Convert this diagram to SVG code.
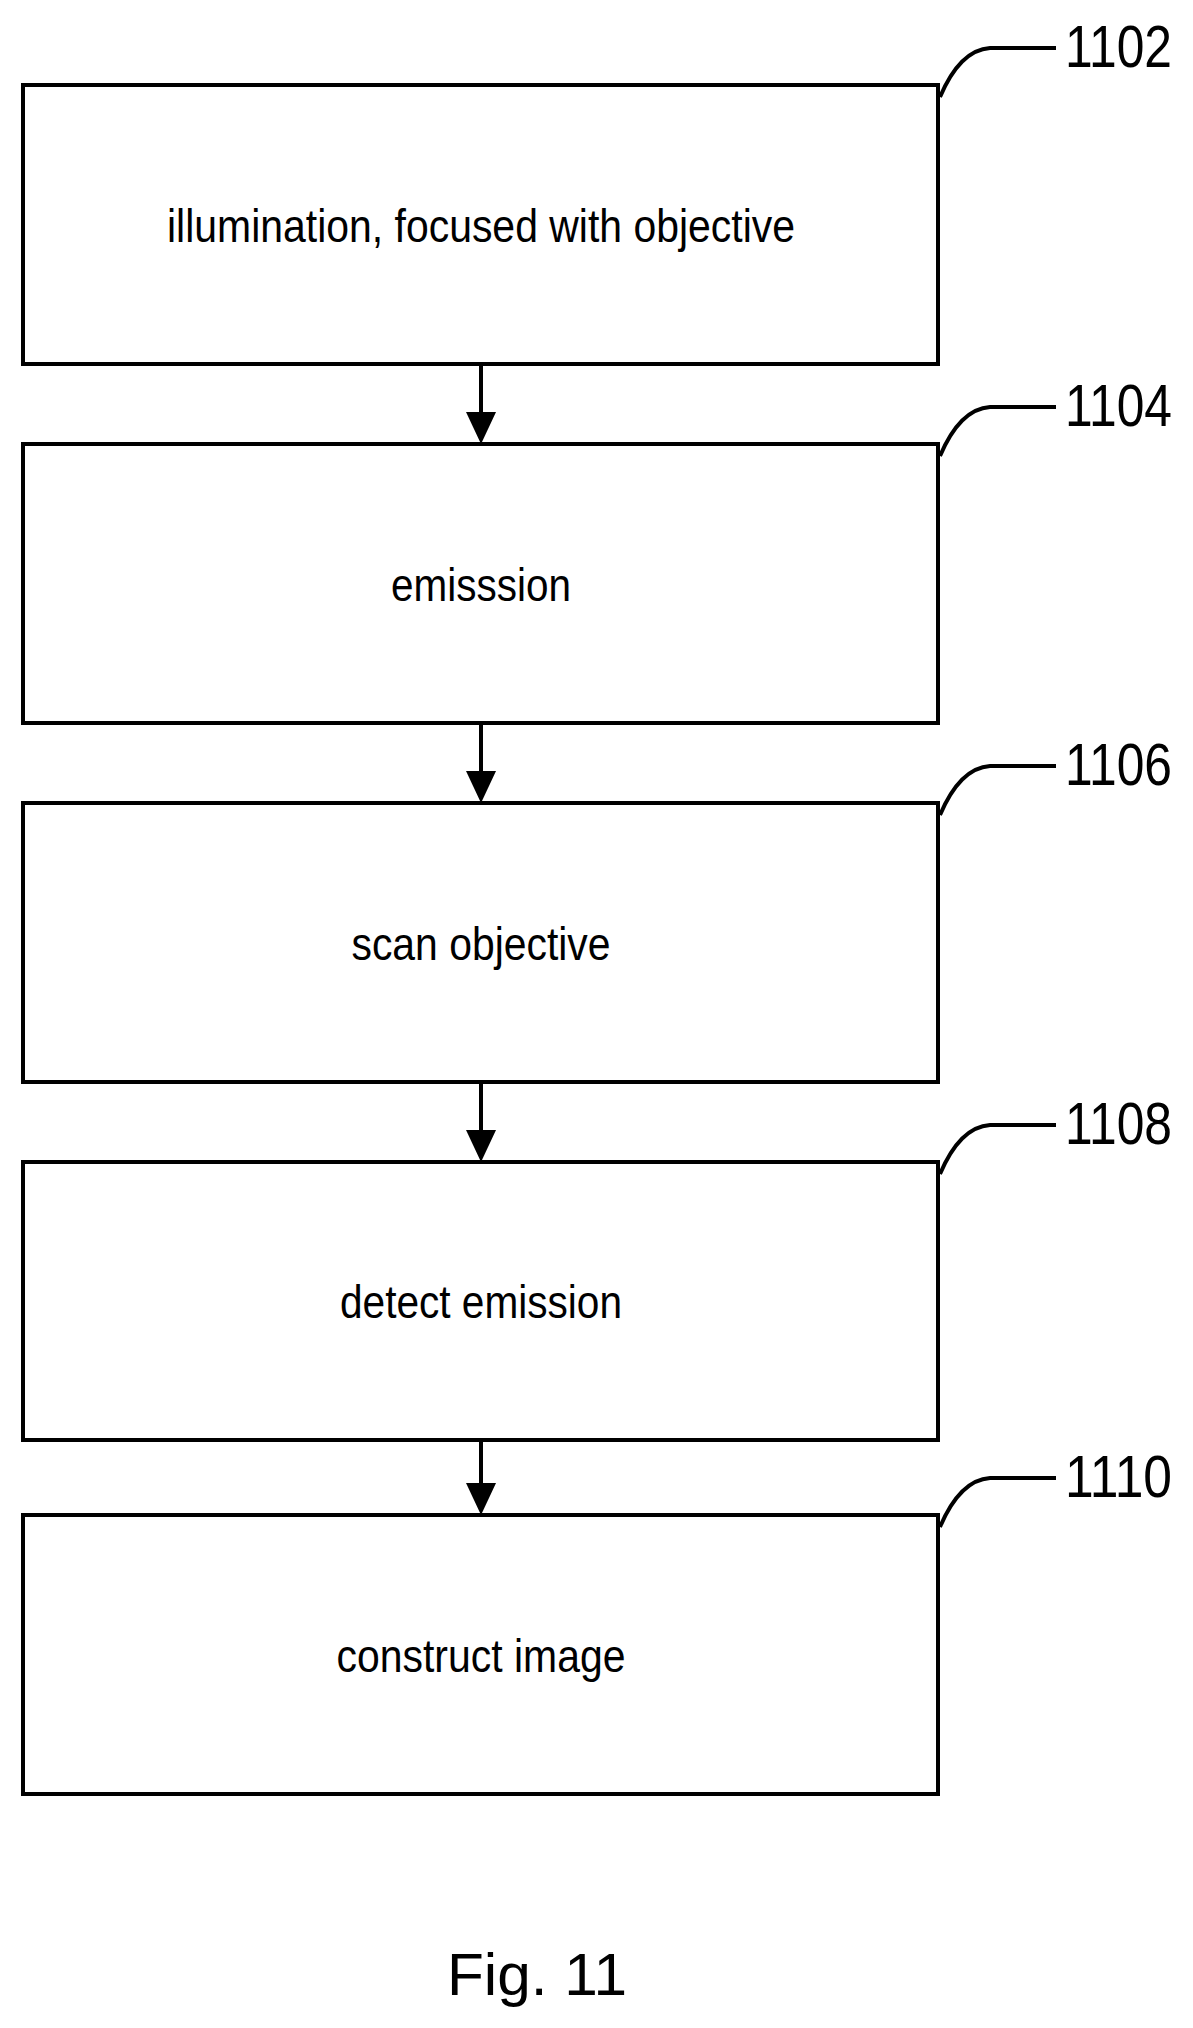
<svg xmlns="http://www.w3.org/2000/svg" width="1193" height="2028" viewBox="0 0 1193 2028">
<style>
.b{fill:#fff;stroke:#000;stroke-width:4}
.t{font-family:"Liberation Sans",Arial,sans-serif;font-size:46px;text-anchor:middle;fill:#000}
.n{font-family:"Liberation Sans",Arial,sans-serif;font-size:60px;fill:#000}
.l{fill:none;stroke:#000;stroke-width:4}
</style>
<defs><marker id="a" markerWidth="8" markerHeight="8" refX="8" refY="4" orient="auto" markerUnits="userSpaceOnUse" viewBox="0 0 8 8"><path d="M0,0L8,4L0,8z"/></marker></defs>
<rect width="1193" height="2028" fill="#fff"/>
<g id="connectors">
<g fill="#000" stroke="#000" stroke-width="4">
<line x1="481" y1="364" x2="481" y2="414"/><path d="M466,412L496,412L481,444z" stroke="none"/>
<line x1="481" y1="723" x2="481" y2="773"/><path d="M466,771L496,771L481,803z" stroke="none"/>
<line x1="481" y1="1082" x2="481" y2="1132"/><path d="M466,1130L496,1130L481,1162z" stroke="none"/>
<line x1="481" y1="1440" x2="481" y2="1485"/><path d="M466,1483L496,1483L481,1515z" stroke="none"/>
</g>
</g>
<g id="n1102"><rect class="b" x="23" y="85" width="915" height="279"/><text class="t" x="481" y="242" textLength="628" lengthAdjust="spacingAndGlyphs">illumination, focused with objective</text><path class="l" d="M940,97Q960,50 990,48L1056,48"/><text class="n" x="1065" y="67" textLength="107" lengthAdjust="spacingAndGlyphs">1102</text></g>
<g id="n1104"><rect class="b" x="23" y="444" width="915" height="279"/><text class="t" x="481" y="601" textLength="180" lengthAdjust="spacingAndGlyphs">emisssion</text><path class="l" d="M940,456Q960,409 990,407L1056,407"/><text class="n" x="1065" y="426" textLength="107" lengthAdjust="spacingAndGlyphs">1104</text></g>
<g id="n1106"><rect class="b" x="23" y="803" width="915" height="279"/><text class="t" x="481" y="960" textLength="259" lengthAdjust="spacingAndGlyphs">scan objective</text><path class="l" d="M940,815Q960,768 990,766L1056,766"/><text class="n" x="1065" y="785" textLength="107" lengthAdjust="spacingAndGlyphs">1106</text></g>
<g id="n1108"><rect class="b" x="23" y="1162" width="915" height="278"/><text class="t" x="481" y="1318" textLength="282" lengthAdjust="spacingAndGlyphs">detect emission</text><path class="l" d="M940,1174Q960,1127 990,1125L1056,1125"/><text class="n" x="1065" y="1144" textLength="107" lengthAdjust="spacingAndGlyphs">1108</text></g>
<g id="n1110"><rect class="b" x="23" y="1515" width="915" height="279"/><text class="t" x="481" y="1672" textLength="289" lengthAdjust="spacingAndGlyphs">construct image</text><path class="l" d="M940,1527Q960,1480 990,1478L1056,1478"/><text class="n" x="1065" y="1497" textLength="107" lengthAdjust="spacingAndGlyphs">1110</text></g>
<text class="n" x="447" y="1995" font-size="76" textLength="180" lengthAdjust="spacingAndGlyphs">Fig. 11</text>
</svg>
